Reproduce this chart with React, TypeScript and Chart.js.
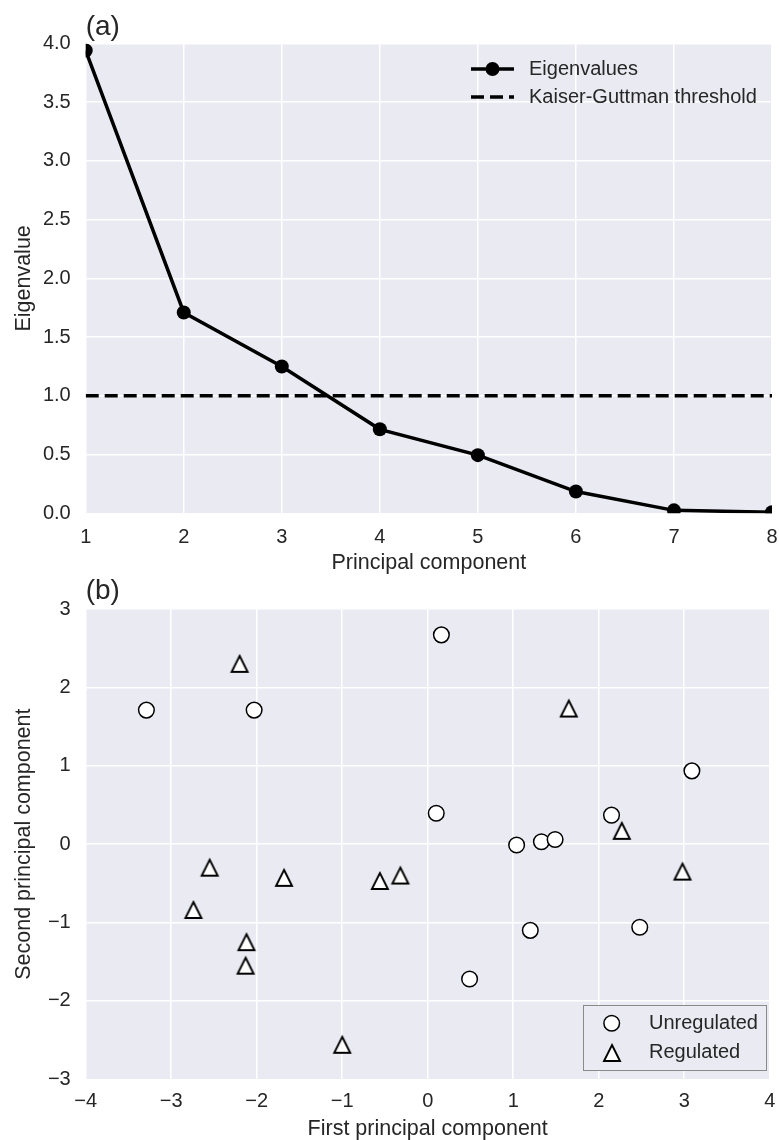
import React, { useEffect, useRef } from 'react';
import { Chart, registerables } from 'chart.js';

Chart.register(...registerables);

const FONT = '"Liberation Sans", Arial, Helvetica, sans-serif';
const TEXT = '#262626';
const PANEL_BG = '#EAEAF2';

// ---- Panel (a): scree plot ----
const componentNumbers = [1, 2, 3, 4, 5, 6, 7, 8];
const eigenvalues = [3.94, 1.71, 1.25, 0.715, 0.495, 0.185, 0.025, 0.01];
const kaiserThreshold = 1.0;
const eigenAxisMin = 0;
const eigenAxisMax = 4;
const eigenAxisStep = 0.5;
const componentAxisMin = 1;
const componentAxisMax = 8;

// ---- Panel (b): PCA scores ----
const unregulatedPC1 = [-3.29, -2.03, 0.16, 0.1, 1.04, 1.33, 1.49, 2.15, 3.09, 1.2, 2.48, 0.49];
const unregulatedPC2 = [1.71, 1.71, 2.67, 0.395, -0.01, 0.03, 0.06, 0.37, 0.935, -1.1, -1.06, -1.72];
const regulatedPC1 = [-2.2, -2.55, -1.68, 1.65, 2.27, 2.98, -0.56, -0.32, -2.74, -2.12, -2.13, -1.0];
const regulatedPC2 = [2.3, -0.3, -0.43, 1.73, 0.17, -0.35, -0.47, -0.4, -0.84, -1.25, -1.55, -2.56];
const pc1Min = -4;
const pc1Max = 4;
const pc2Min = -3;
const pc2Max = 3;

const minusFmt = (v: number | string) => {
  const n = Number(v);
  return n < 0 ? '\u2212' + Math.abs(n) : String(n);
};

const panelBg = {
  id: 'panelBg',
  beforeDraw(chart: any) {
    const { ctx, chartArea: a } = chart;
    ctx.save();
    ctx.fillStyle = PANEL_BG;
    ctx.fillRect(a.left, a.top, a.right - a.left, a.bottom - a.top);
    ctx.restore();
  },
};

function makeTriangle(): HTMLCanvasElement {
  const c = document.createElement('canvas');
  c.width = 22;
  c.height = 22;
  const g = c.getContext('2d')!;
  g.beginPath();
  g.moveTo(11, 3);
  g.lineTo(19, 19);
  g.lineTo(3, 19);
  g.closePath();
  g.fillStyle = '#ffffff';
  g.fill();
  g.lineWidth = 1.9;
  g.strokeStyle = '#000000';
  g.lineJoin = 'miter';
  g.stroke();
  return c;
}

export default function App() {
  const topRef = useRef<HTMLCanvasElement>(null);
  const botRef = useRef<HTMLCanvasElement>(null);

  useEffect(() => {
    const tri = makeTriangle();

    const topLegend = {
      id: 'topLegend',
      afterDraw(chart: any) {
        const { ctx } = chart;
        const ds = chart.data.datasets;
        ctx.save();
        ctx.font = `20px ${FONT}`;
        ctx.fillStyle = TEXT;
        ctx.textBaseline = 'middle';
        ctx.textAlign = 'left';
        let y = 69;
        ctx.strokeStyle = '#000';
        ctx.lineWidth = 3.5;
        ctx.setLineDash([]);
        ctx.beginPath();
        ctx.moveTo(471, y);
        ctx.lineTo(514, y);
        ctx.stroke();
        ctx.beginPath();
        ctx.arc(492.5, y, 7, 0, Math.PI * 2);
        ctx.fillStyle = '#000';
        ctx.fill();
        ctx.fillStyle = TEXT;
        ctx.fillText(ds[0].label, 529, y);
        y = 97;
        ctx.setLineDash([13, 6]);
        ctx.beginPath();
        ctx.moveTo(471, y);
        ctx.lineTo(514, y);
        ctx.stroke();
        ctx.setLineDash([]);
        ctx.fillText(ds[1].label, 529, y);
        ctx.restore();
      },
    };

    const botLegend = {
      id: 'botLegend',
      afterDraw(chart: any) {
        const { ctx } = chart;
        const ds = chart.data.datasets;
        ctx.save();
        ctx.fillStyle = PANEL_BG;
        ctx.fillRect(583.5, 440.5, 183, 65);
        ctx.strokeStyle = '#8a8a8a';
        ctx.lineWidth = 1;
        ctx.strokeRect(583.5, 440.5, 183, 65);
        ctx.beginPath();
        ctx.arc(611.7, 458.3, 7.8, 0, Math.PI * 2);
        ctx.fillStyle = '#fff';
        ctx.fill();
        ctx.lineWidth = 1.5;
        ctx.strokeStyle = '#000';
        ctx.stroke();
        ctx.drawImage(tri, 601, 477);
        ctx.font = `20px ${FONT}`;
        ctx.fillStyle = TEXT;
        ctx.textBaseline = 'middle';
        ctx.textAlign = 'left';
        ctx.fillText(ds[0].label, 649, 458);
        ctx.fillText(ds[1].label, 649, 487);
        ctx.restore();
      },
    };

    const tickFont = { family: FONT, size: 20 };
    const titleFont = { family: FONT, size: 21.5, lineHeight: 1 };

    const c1 = new Chart(topRef.current!, {
      type: 'line',
      data: {
        datasets: [
          {
            label: 'Eigenvalues',
            data: componentNumbers.map((x, i) => ({ x, y: eigenvalues[i] })),
            borderColor: '#000',
            backgroundColor: '#000',
            borderWidth: 3.5,
            pointRadius: 7,
            pointBackgroundColor: '#000',
            pointBorderWidth: 0,
            tension: 0,
            clip: 0,
            order: 0,
          },
          {
            label: 'Kaiser-Guttman threshold',
            data: [
              { x: componentAxisMin, y: kaiserThreshold },
              { x: componentAxisMax, y: kaiserThreshold },
            ],
            borderColor: '#000',
            borderWidth: 3.5,
            borderDash: [13, 6],
            pointRadius: 0,
            clip: 0,
            order: 1,
          },
        ],
      },
      options: {
        responsive: false,
        maintainAspectRatio: false,
        animation: false,
        events: [],
        layout: { padding: { left: 0, right: 4, top: 0, bottom: 0 } },
        plugins: {
          legend: { display: false },
          tooltip: { enabled: false },
          title: {
            display: true,
            text: '(a)',
            align: 'start',
            fullSize: false,
            color: TEXT,
            font: { family: FONT, size: 28, weight: 'normal', lineHeight: 1 },
            padding: { top: 13.5, bottom: 2 },
          },
        },
        scales: {
          x: {
            type: 'linear',
            min: componentAxisMin,
            max: componentAxisMax,
            ticks: { stepSize: 1, font: tickFont, color: TEXT, padding: 12 },
            grid: { color: '#ffffff', lineWidth: 1.5, drawTicks: false },
            border: { display: false },
            title: {
              display: true,
              text: 'Principal component',
              font: titleFont,
              color: TEXT,
              padding: { top: 0, bottom: 11.25 },
            },
            afterFit: (s: any) => {
              s.height = 585 - 513.3;
              s.paddingLeft = 0;
              s.paddingRight = 0;
            },
          },
          y: {
            type: 'linear',
            min: eigenAxisMin,
            max: eigenAxisMax,
            ticks: {
              stepSize: eigenAxisStep,
              font: tickFont,
              color: TEXT,
              padding: 15,
              callback: (v: any) => Number(v).toFixed(1),
            },
            grid: { color: '#ffffff', lineWidth: 1.5, drawTicks: false },
            border: { display: false },
            title: {
              display: true,
              text: 'Eigenvalue',
              font: titleFont,
              color: TEXT,
              padding: { top: 13.25, bottom: 0 },
            },
            afterFit: (s: any) => {
              s.width = 85.7;
              s.paddingTop = 0;
              s.paddingBottom = 0;
            },
          },
        },
      },
      plugins: [panelBg, topLegend],
    } as any);

    const c2 = new Chart(botRef.current!, {
      type: 'scatter',
      data: {
        datasets: [
          {
            label: 'Unregulated',
            data: unregulatedPC1.map((x, i) => ({ x, y: unregulatedPC2[i] })),
            pointStyle: 'circle',
            pointRadius: 7.8,
            pointBackgroundColor: '#ffffff',
            pointBorderColor: '#000000',
            pointBorderWidth: 1.5,
          },
          {
            label: 'Regulated',
            data: regulatedPC1.map((x, i) => ({ x, y: regulatedPC2[i] })),
            pointStyle: tri,
            pointRadius: 8,
            pointBackgroundColor: '#ffffff',
            pointBorderColor: '#000000',
          },
        ],
      },
      options: {
        responsive: false,
        maintainAspectRatio: false,
        animation: false,
        events: [],
        layout: { padding: { left: 0, right: 4, top: 0, bottom: 0 } },
        plugins: {
          legend: { display: false },
          tooltip: { enabled: false },
          title: {
            display: true,
            text: '(b)',
            align: 'start',
            fullSize: false,
            color: TEXT,
            font: { family: FONT, size: 28, weight: 'normal', lineHeight: 1 },
            padding: { top: 12.5, bottom: 3.5 },
          },
        },
        scales: {
          x: {
            type: 'linear',
            min: pc1Min,
            max: pc1Max,
            ticks: { stepSize: 1, font: tickFont, color: TEXT, padding: 10.4, callback: minusFmt },
            grid: { color: '#ffffff', lineWidth: 1.5, drawTicks: false },
            border: { display: false },
            title: {
              display: true,
              text: 'First principal component',
              font: titleFont,
              color: TEXT,
              padding: { top: 0, bottom: 0.25 },
            },
            afterFit: (s: any) => {
              s.height = 575 - 514.3;
              s.paddingLeft = 0;
              s.paddingRight = 0;
            },
          },
          y: {
            type: 'linear',
            min: pc2Min,
            max: pc2Max,
            ticks: { stepSize: 1, font: tickFont, color: TEXT, padding: 15, callback: minusFmt },
            grid: { color: '#ffffff', lineWidth: 1.5, drawTicks: false },
            border: { display: false },
            title: {
              display: true,
              text: 'Second principal component',
              font: titleFont,
              color: TEXT,
              padding: { top: 13.25, bottom: 0 },
            },
            afterFit: (s: any) => {
              s.width = 85.7;
              s.paddingTop = 0;
              s.paddingBottom = 0;
            },
          },
        },
      },
      plugins: [panelBg, botLegend],
    } as any);

    return () => {
      c1.destroy();
      c2.destroy();
    };
  }, []);

  return (
    <div
      style={{
        position: 'absolute',
        left: 0,
        top: 0,
        width: 779,
        height: 1140,
        overflow: 'hidden',
        background: '#ffffff',
      }}
    >
      <canvas
        ref={topRef}
        width={779}
        height={585}
        style={{ position: 'absolute', left: 0, top: 0, width: 779, height: 585, display: 'block' }}
      />
      <canvas
        ref={botRef}
        width={779}
        height={575}
        style={{ position: 'absolute', left: 0, top: 565, width: 779, height: 575, display: 'block' }}
      />
    </div>
  );
}
